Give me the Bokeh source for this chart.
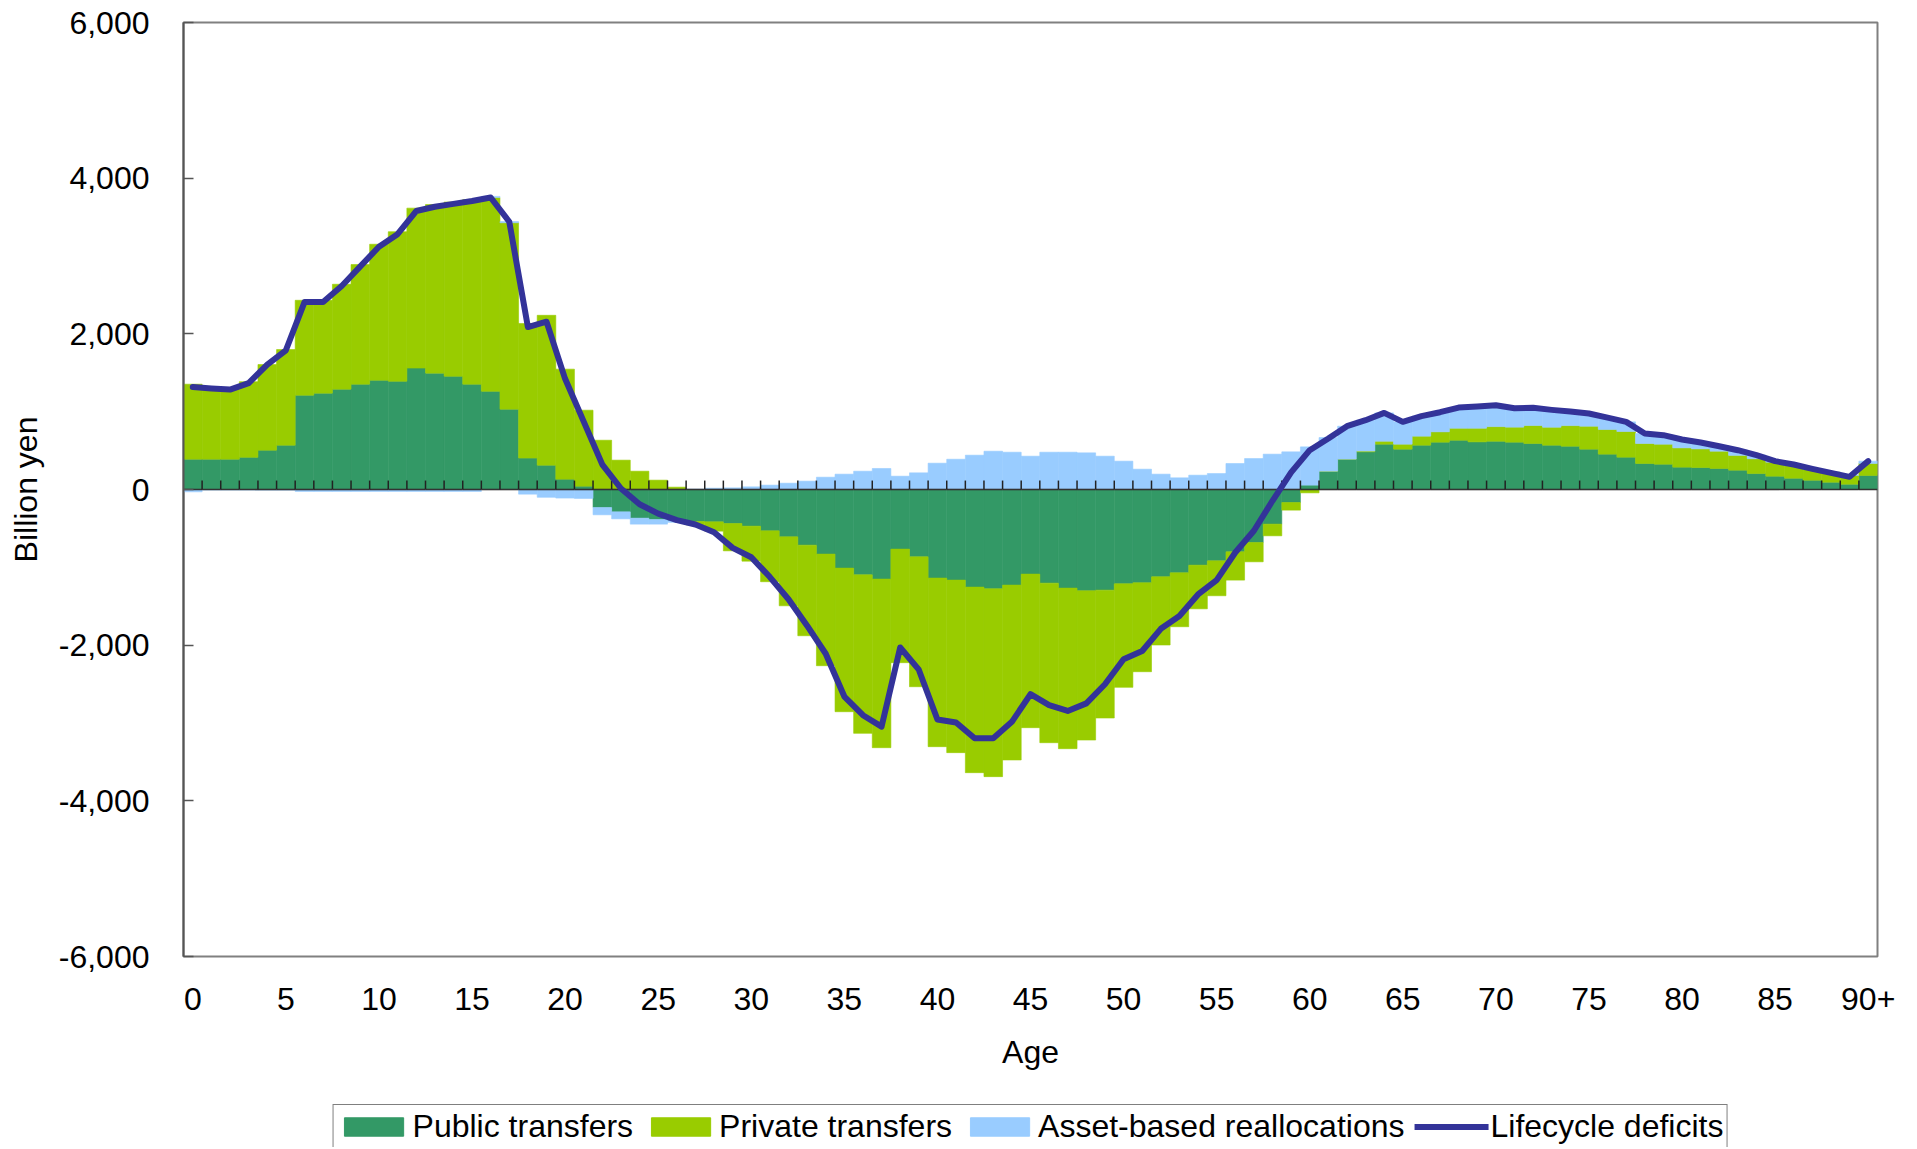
import numpy as np
from bokeh.plotting import figure
from bokeh.layouts import column
from bokeh.models import (Range1d, FixedTicker, NumeralTickFormatter, Legend, LegendItem,
                          ColumnDataSource)
from bokeh.embed import file_html
from bokeh.resources import INLINE

# ---------------- data (billion yen, by single year of age) ----------------
ages = list(range(91))
tick_ages = [0, 5, 10, 15, 20, 25, 30, 35, 40, 45, 50, 55, 60, 65, 70, 75, 80, 85, 90]
tick_labels = ["0", "5", "10", "15", "20", "25", "30", "35", "40", "45", "50", "55",
               "60", "65", "70", "75", "80", "85", "90+"]
y_ticks = [-6000, -4000, -2000, 0, 2000, 4000, 6000]

public = [390, 390, 390, 413, 505, 569, 1211, 1238, 1289, 1353,
          1404, 1390, 1560, 1495, 1454, 1353, 1261, 1032, 404, 312,
          133, 43, -231, -287, -368, -385, -402, -410, -415, -437,
          -471, -531, -608, -715, -830, -1010, -1096, -1151, -766, -865,
          -1138, -1164, -1254, -1275, -1228, -1087, -1203, -1267, -1301, -1293,
          -1211, -1198, -1121, -1070, -972, -916, -800, -681, -445, -167,
          56, 235, 390, 484, 582, 518, 569, 608, 633, 612,
          620, 608, 591, 569, 556, 518, 454, 415, 334, 325,
          287, 282, 270, 248, 205, 171, 145, 120, 94, 68,
          180]

private = [963, 925, 910, 972, 1100, 1229, 1220, 1193, 1348, 1537,
           1747, 1922, 2055, 2166, 2239, 2372, 2490, 2395, 1729, 1926,
           1413, 976, 633, 377, 235, 120, 30, -45, -120, -351,
           -450, -654, -886, -1164, -1434, -1845, -2037, -2166, -1459, -1669,
           -2166, -2217, -2384, -2414, -2247, -1973, -2050, -2063, -1918, -1643,
           -1331, -1143, -877, -693, -561, -449, -364, -248, -150, -98,
           -43, 0, 0, 10, 38, 64, 116, 133, 154, 175,
           188, 193, 231, 231, 265, 295, 317, 330, 257, 257,
           248, 240, 222, 190, 190, 180, 167, 140, 128, 115,
           154]

asset = [-30, -8, -8, -8, -8, -8, -25, -25, -25, -25,
         -25, -25, -25, -25, -25, -25, 15, 15, -60, -100,
         -110, -115, -94, -90, -77, -60, -20, 5, 17, 21,
         34, 56, 81, 107, 158, 197, 235, 270, 171, 214,
         338, 389, 441, 492, 479, 428, 479, 479, 471, 428,
         364, 261, 197, 150, 184, 205, 334, 398, 454, 484,
         492, 433, 423, 396, 364, 287, 257, 252, 266, 279,
         275, 243, 227, 223, 181, 163, 153, 124, 128, 116,
         107, 81, 64, 67, 46, 13, 9, 5, 0, 0,
         30]

deficit = [1316, 1298, 1284, 1367, 1605, 1789, 2408, 2408, 2615, 2867,
           3119, 3280, 3578, 3633, 3670, 3706, 3752, 3440, 2087, 2156,
           1422, 872, 320, 13, -190, -310, -394, -450, -550, -750,
           -870, -1125, -1410, -1750, -2110, -2660, -2900, -3047, -2030, -2315,
           -2955, -2994, -3197, -3197, -2985, -2630, -2770, -2845, -2748, -2502,
           -2180, -2075, -1790, -1625, -1349, -1164, -810, -530, -145, 220,
           505, 655, 813, 890, 984, 869, 942, 993, 1053, 1066,
           1083, 1044, 1049, 1023, 1002, 976, 924, 869, 719, 698,
           642, 603, 556, 505, 441, 364, 321, 265, 214, 163,
           364]

series_names = ["Public transfers", "Private transfers", "Asset-based reallocations"]
series_colors = ["#339966", "#99CC00", "#99CCFF"]
line_name = "Lifecycle deficits"
line_color = "#333399"

FONT = "Liberation Sans"
FS = "32px"
W = 1912

# ---------------- main figure ----------------
p = figure(width=W, height=1089,
           x_range=Range1d(-0.5, 90.5), y_range=Range1d(-6000, 6000),
           output_backend="svg", toolbar_location=None,
           min_border_left=183, min_border_right=35,
           min_border_top=22, min_border_bottom=133)
p.background_fill_color = "white"
p.border_fill_color = "white"
p.grid.visible = False
p.outline_line_color = "#808080"
p.outline_line_width = 2

# stacked bars (positives stack up, negatives stack down)
x = np.array(ages, dtype=float)
pos = np.zeros(len(ages))
neg = np.zeros(len(ages))
sources = []
for vals, col in zip((public, private, asset), series_colors):
    v = np.array(vals, dtype=float)
    bottom = np.where(v >= 0, pos, neg)
    top = bottom + v
    pos = np.where(v >= 0, top, pos)
    neg = np.where(v < 0, top, neg)
    src = ColumnDataSource(dict(x=x, bottom=bottom, top=top))
    sources.append(src)
    p.vbar(x="x", width=1.0, bottom="bottom", top="top", source=src,
           fill_color=col, line_color=col, line_width=0.6)

# category axis drawn through zero, with a tick between every age
p.segment(x0=x - 0.5, y0=0, x1=x + 0.5, y1=0, line_color="#333333", line_width=1.6)
tick_len = 115
p.segment(x0=x[:-1] + 0.5, y0=0, x1=x[:-1] + 0.5, y1=tick_len,
          line_color="#222222", line_width=1.5)

p.line(x, deficit, line_color=line_color, line_width=6,
       line_join="round", line_cap="round")

# ---------------- axes ----------------
xa = p.xaxis[0]
xa.ticker = FixedTicker(ticks=tick_ages)
xa.major_label_overrides = {t: lab for t, lab in zip(tick_ages, tick_labels)}
xa.major_tick_line_color = None
xa.major_tick_out = 0
xa.major_tick_in = 0
xa.minor_tick_line_color = None
xa.axis_line_color = None
xa.major_label_standoff = 31
xa.major_label_text_font = FONT
xa.major_label_text_font_size = FS
xa.major_label_text_color = "black"
xa.axis_label = "Age"
xa.axis_label_standoff = 21
xa.axis_label_text_font = FONT
xa.axis_label_text_font_size = FS
xa.axis_label_text_font_style = "normal"
xa.axis_label_text_color = "black"

ya = p.yaxis[0]
ya.ticker = FixedTicker(ticks=y_ticks)
ya.formatter = NumeralTickFormatter(format="0,0")
ya.major_tick_in = 10
ya.major_tick_out = 0
ya.major_tick_line_color = "#555555"
ya.major_tick_line_width = 1.5
ya.minor_tick_line_color = None
ya.axis_line_color = "#555555"
ya.axis_line_width = 2
ya.major_label_standoff = 34
ya.major_label_text_font = FONT
ya.major_label_text_font_size = FS
ya.major_label_text_color = "black"
ya.axis_label = "Billion yen"
ya.axis_label_standoff = 12
ya.axis_label_text_font = FONT
ya.axis_label_text_font_size = FS
ya.axis_label_text_font_style = "normal"
ya.axis_label_text_color = "black"

# ---------------- legend strip (hidden twins of the series, for their keys) ----------------
lg = figure(width=W, height=58, output_backend="svg", toolbar_location=None,
            x_axis_location=None, y_axis_location=None,
            min_border_left=183, min_border_right=35, min_border_top=0,
            min_border_bottom=0)
lg.grid.visible = False
lg.outline_line_color = None
lg.background_fill_color = "white"
lg.border_fill_color = "white"
leg_renderers = [lg.vbar(x="x", top="top", bottom="bottom", width=1.0, source=s,
                         fill_color=c, line_color=c, visible=False)
                 for s, c in zip(sources, series_colors)]
leg_line = lg.line(x, deficit, line_color=line_color, line_width=6,
                   line_join="round", line_cap="round", visible=False)

items = [LegendItem(label=n, renderers=[r]) for n, r in zip(series_names, leg_renderers)]
items.append(LegendItem(label=line_name, renderers=[leg_line]))
legend = Legend(items=items, orientation="horizontal", location="top_center",
                label_text_font=FONT, label_text_font_size=FS,
                label_text_color="black",
                glyph_width=74, glyph_height=23, label_standoff=2, spacing=10,
                padding=3, margin=15, click_policy="none",
                border_line_color="black", border_line_width=1.5,
                background_fill_color="white", background_fill_alpha=1.0)
lg.add_layout(legend, "center")

layout = column(p, lg, spacing=0)
open("out.html", "w").write(file_html(layout, INLINE))
